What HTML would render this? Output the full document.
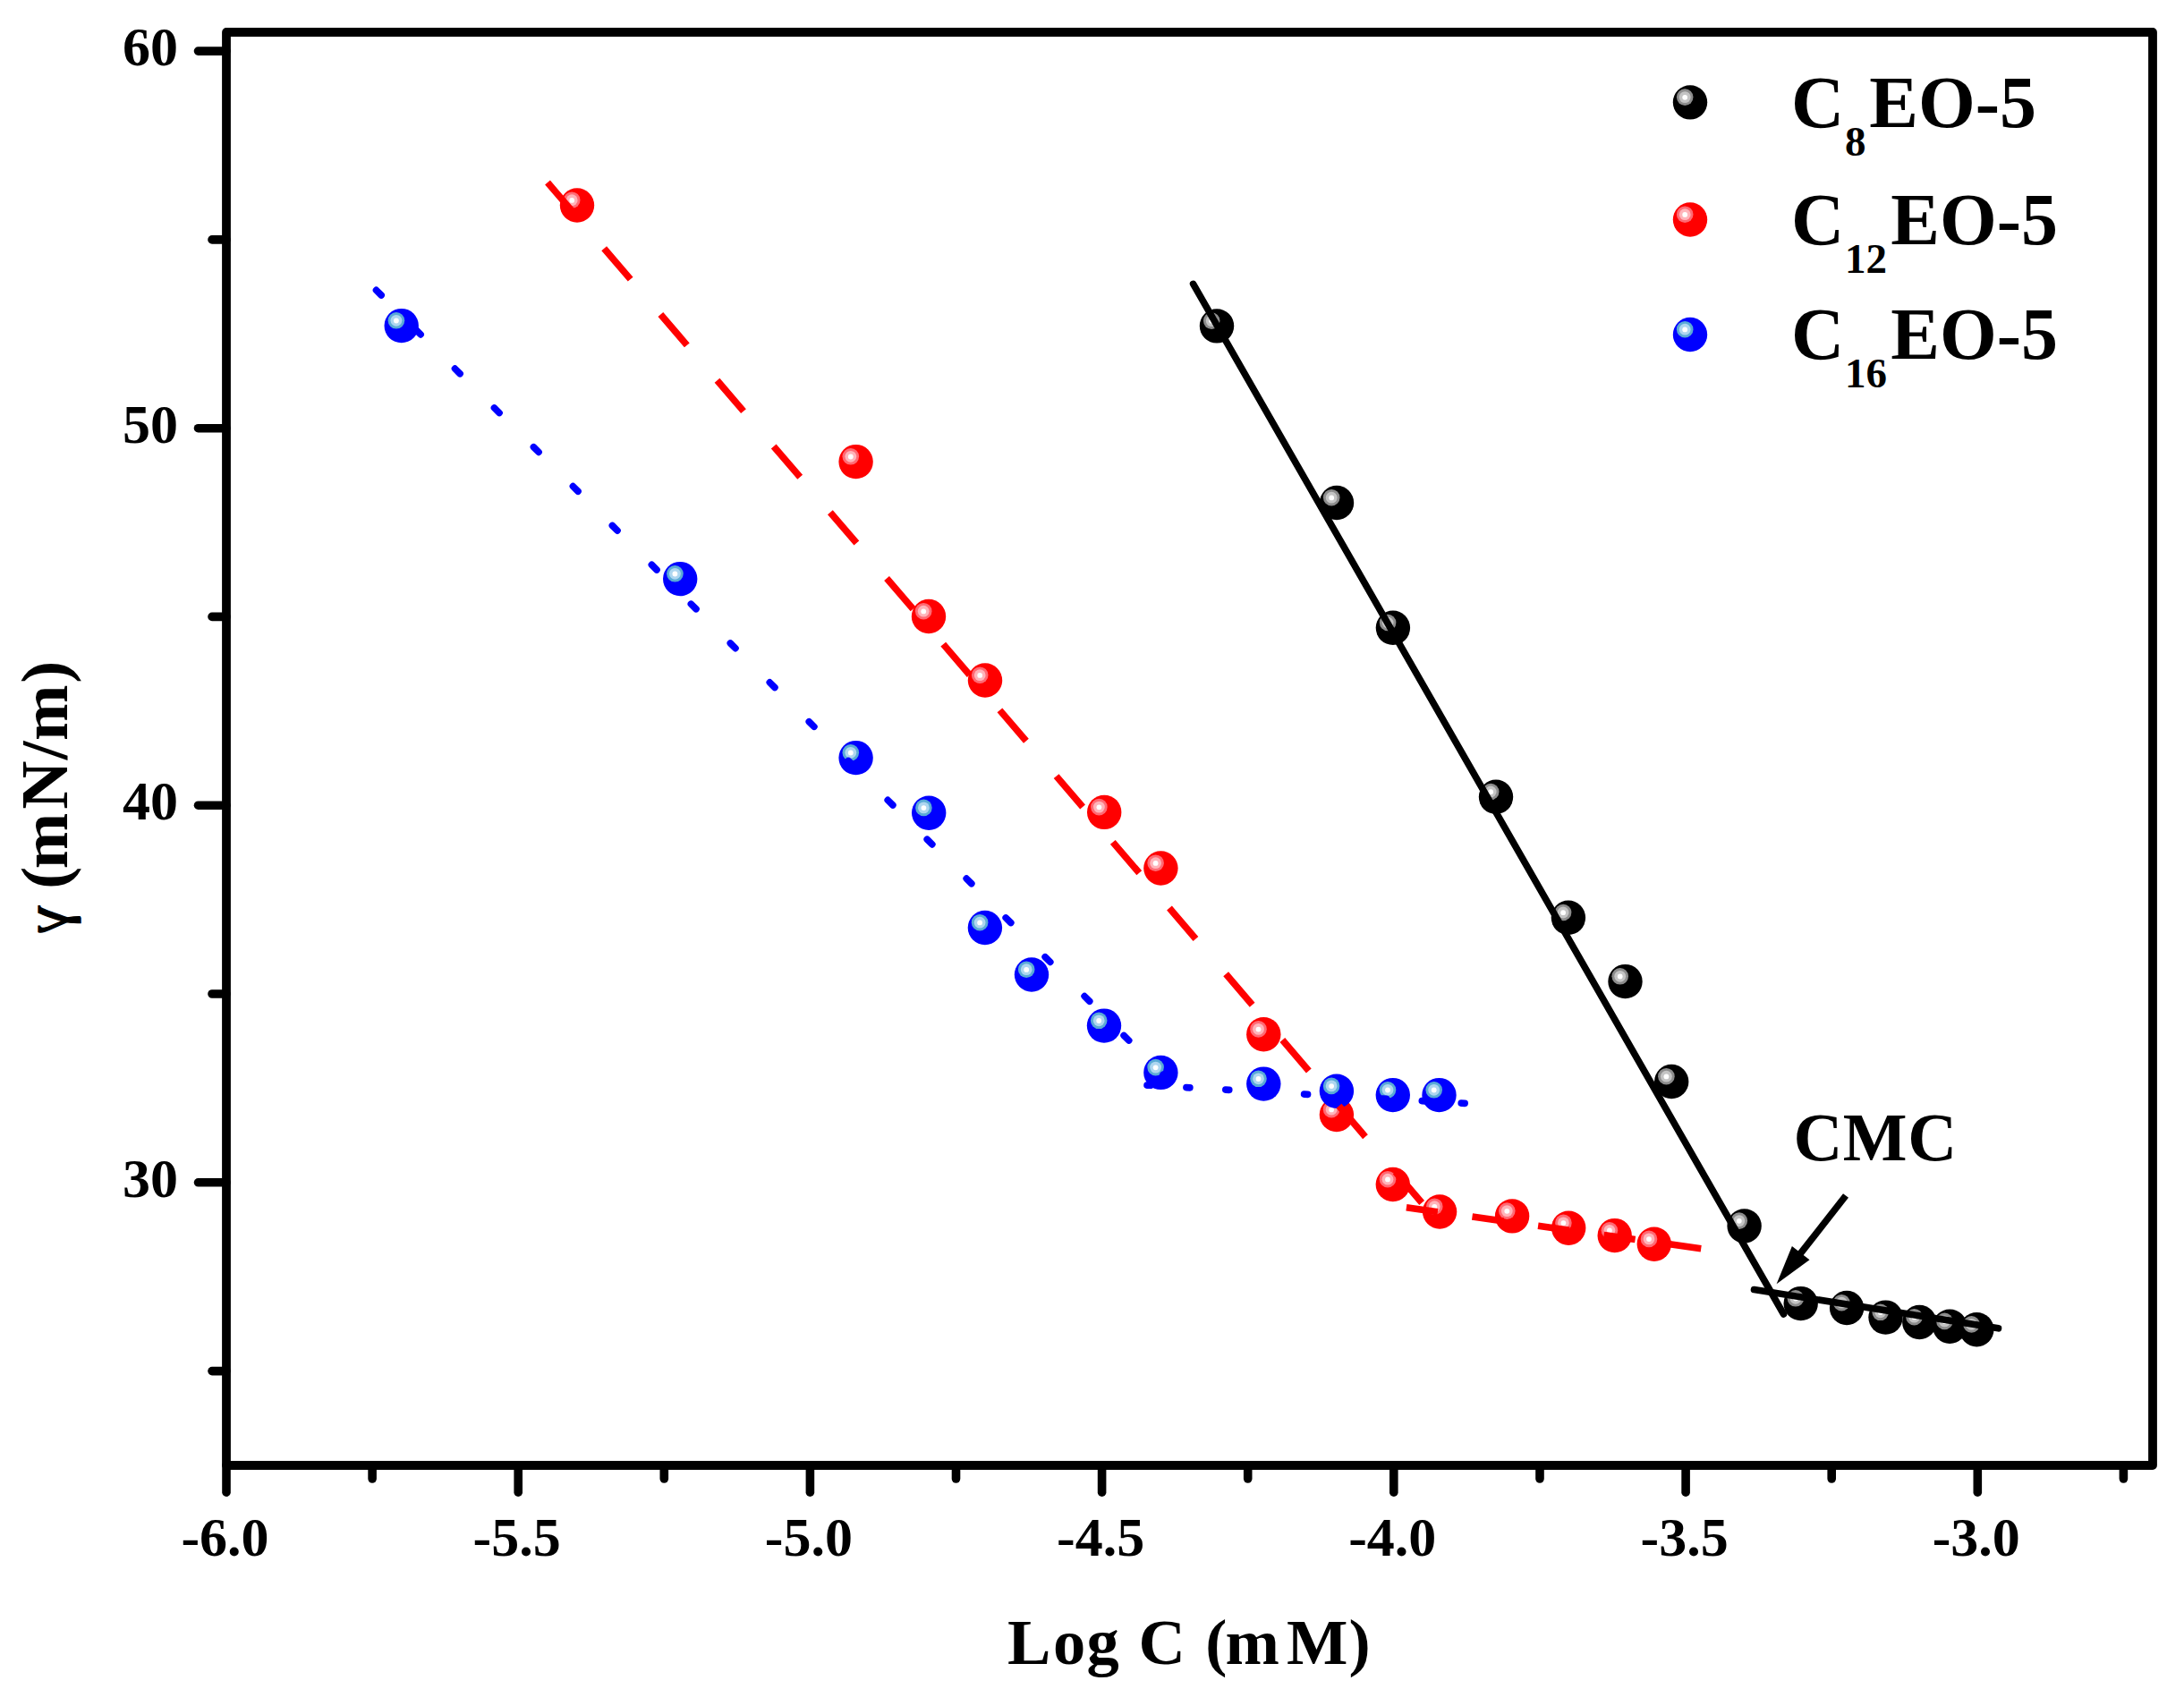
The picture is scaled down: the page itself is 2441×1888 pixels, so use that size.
<!DOCTYPE html>
<html lang="en"><head><meta charset="utf-8"><title>Surface tension vs Log C</title>
<style>html,body{margin:0;padding:0;background:#fff}svg{display:block}text{font-family:"Liberation Serif","DejaVu Serif",serif;font-weight:bold;fill:#000}</style>
</head><body>
<svg width="2441" height="1888" viewBox="0 0 2441 1888">
<rect x="0" y="0" width="2441" height="1888" fill="#fff"/>
<defs>
<g id="mk"><circle r="19.2" fill="#000"/><circle cx="-5.8" cy="-5.8" r="9.3" fill="#8c8c8c"/><circle cx="-5.8" cy="-5.8" r="6.4" fill="#c4c4c4"/><circle cx="-5.8" cy="-5.6" r="2.9" fill="#fff"/></g>
<g id="mr"><circle r="19.2" fill="#f00"/><circle cx="-5.8" cy="-5.8" r="9.3" fill="#ff6a74"/><circle cx="-5.8" cy="-5.8" r="6.4" fill="#ffb4ba"/><circle cx="-5.8" cy="-5.6" r="2.9" fill="#fff"/></g>
<g id="mb"><circle r="19.2" fill="#00f"/><circle cx="-5.8" cy="-5.8" r="9.3" fill="#5aaad6"/><circle cx="-5.8" cy="-5.8" r="6.4" fill="#aed6f0"/><circle cx="-5.8" cy="-5.6" r="2.9" fill="#fff"/></g>
</defs>
<rect x="253.0" y="36.0" width="2153.0" height="1602.0" fill="none" stroke="#000" stroke-width="9.8" stroke-linejoin="round"/>
<g stroke="#000" stroke-width="9.6" stroke-linecap="round" fill="none">
<line x1="253.0" y1="1638.0" x2="253.0" y2="1668.2"/>
<line x1="579.2" y1="1638.0" x2="579.2" y2="1668.2"/>
<line x1="905.4" y1="1638.0" x2="905.4" y2="1668.2"/>
<line x1="1231.6" y1="1638.0" x2="1231.6" y2="1668.2"/>
<line x1="1557.8" y1="1638.0" x2="1557.8" y2="1668.2"/>
<line x1="1884.1" y1="1638.0" x2="1884.1" y2="1668.2"/>
<line x1="2210.3" y1="1638.0" x2="2210.3" y2="1668.2"/>
<line x1="416.1" y1="1638.0" x2="416.1" y2="1653"/>
<line x1="742.3" y1="1638.0" x2="742.3" y2="1653"/>
<line x1="1068.5" y1="1638.0" x2="1068.5" y2="1653"/>
<line x1="1394.7" y1="1638.0" x2="1394.7" y2="1653"/>
<line x1="1721.0" y1="1638.0" x2="1721.0" y2="1653"/>
<line x1="2047.2" y1="1638.0" x2="2047.2" y2="1653"/>
<line x1="2373.4" y1="1638.0" x2="2373.4" y2="1653"/>
<line x1="253.0" y1="57.1" x2="221.5" y2="57.1"/>
<line x1="253.0" y1="478.7" x2="221.5" y2="478.7"/>
<line x1="253.0" y1="900.2" x2="221.5" y2="900.2"/>
<line x1="253.0" y1="1321.8" x2="221.5" y2="1321.8"/>
<line x1="253.0" y1="267.9" x2="237" y2="267.9"/>
<line x1="253.0" y1="689.4" x2="237" y2="689.4"/>
<line x1="253.0" y1="1111.0" x2="237" y2="1111.0"/>
<line x1="253.0" y1="1532.6" x2="237" y2="1532.6"/>
</g>
<g font-size="62">
<text x="199" y="73.3" text-anchor="end">60</text>
<text x="199" y="494.9" text-anchor="end">50</text>
<text x="199" y="916.4" text-anchor="end">40</text>
<text x="199" y="1338.0" text-anchor="end">30</text>
<text x="251.5" y="1739" text-anchor="middle">-6.0</text>
<text x="577.7" y="1739" text-anchor="middle">-5.5</text>
<text x="903.9" y="1739" text-anchor="middle">-5.0</text>
<text x="1230.1" y="1739" text-anchor="middle">-4.5</text>
<text x="1556.3" y="1739" text-anchor="middle">-4.0</text>
<text x="1882.6" y="1739" text-anchor="middle">-3.5</text>
<text x="2208.8" y="1739" text-anchor="middle">-3.0</text>
</g>
<text x="1125.9 1177.1 1214.6 1251 1272.6 1325 1347.2 1369.4 1438 1507.4" y="1860" font-size="72.5">Log C (mM)</text>
<text transform="translate(74.8,1041.5) rotate(-90) translate(28.4,0) scale(-1,1)" x="-0.4" font-size="70" style="font-weight:normal" stroke="#000" stroke-width="1.3">γ</text>
<text transform="translate(74.8,1041.5) rotate(-90)" font-size="75" x="47.8 70.25 136.85 192.3 213.45 277.75">(mN/m)</text>
<g>
<use href="#mk" x="1360.0" y="364.4"/>
<use href="#mk" x="1494.0" y="562.0"/>
<use href="#mk" x="1556.9" y="701.8"/>
<use href="#mk" x="1672.0" y="890.8"/>
<use href="#mk" x="1752.9" y="1025.8"/>
<use href="#mk" x="1816.5" y="1097.1"/>
<use href="#mk" x="1868.2" y="1209.0"/>
<use href="#mk" x="1949.6" y="1370.4"/>
<use href="#mk" x="2012.7" y="1457.1"/>
<use href="#mk" x="2064.1" y="1462.0"/>
<use href="#mk" x="2107.5" y="1472.6"/>
<use href="#mk" x="2145.3" y="1478.0"/>
<use href="#mk" x="2179.2" y="1482.7"/>
<use href="#mk" x="2209.3" y="1486.2"/>
<use href="#mr" x="645.0" y="229.5"/>
<use href="#mr" x="956.6" y="516.1"/>
<use href="#mr" x="1038.0" y="689.0"/>
<use href="#mr" x="1101.0" y="760.5"/>
<use href="#mr" x="1234.2" y="907.9"/>
<use href="#mr" x="1297.4" y="970.5"/>
<use href="#mr" x="1412.3" y="1156.2"/>
<use href="#mr" x="1493.9" y="1246.0"/>
<use href="#mr" x="1556.8" y="1324.0"/>
<use href="#mr" x="1609.1" y="1354.5"/>
<use href="#mr" x="1690.1" y="1359.4"/>
<use href="#mr" x="1753.2" y="1372.7"/>
<use href="#mr" x="1804.7" y="1381.1"/>
<use href="#mr" x="1848.8" y="1390.7"/>
<use href="#mb" x="448.7" y="364.1"/>
<use href="#mb" x="760.2" y="647.1"/>
<use href="#mb" x="956.6" y="847.1"/>
<use href="#mb" x="1038.2" y="908.7"/>
<use href="#mb" x="1100.9" y="1037.0"/>
<use href="#mb" x="1153.0" y="1089.5"/>
<use href="#mb" x="1234.0" y="1146.6"/>
<use href="#mb" x="1297.4" y="1198.9"/>
<use href="#mb" x="1412.3" y="1211.6"/>
<use href="#mb" x="1493.9" y="1219.7"/>
<use href="#mb" x="1556.8" y="1224.1"/>
<use href="#mb" x="1608.5" y="1224.1"/>
</g>
<g fill="none" stroke-width="7.6">
<line x1="1333.6" y1="317.4" x2="1993.5" y2="1469" stroke="#000" stroke-linecap="round"/>
<line x1="1960.5" y1="1441.6" x2="2233.5" y2="1484.8" stroke="#000" stroke-linecap="round"/>
<line x1="612.0" y1="204.0" x2="1590.6" y2="1346.1" stroke="#f00" stroke-dasharray="45.3 51.8"/>
<line x1="1571.9" y1="1349.8" x2="1901.5" y2="1395.7" stroke="#f00" stroke-dasharray="35.3 39"/>
<line x1="420.5" y1="324.4" x2="1308.9" y2="1210.1" stroke="#00f" stroke-linecap="round" stroke-dasharray="8 54.1"/>
<line x1="1282" y1="1213.1" x2="1641" y2="1233.6" stroke="#00f" stroke-linecap="round" stroke-dasharray="4 39.97"/>
<line x1="2063" y1="1336.5" x2="2010" y2="1404.2" stroke="#000"/>
</g>
<polygon points="1985.6,1435.3 2022.5,1408.3 2002.9,1393.0" fill="#000"/>
<text x="2004.6 2059.8 2132.2" y="1297" font-size="76">CMC</text>
<use href="#mk" x="1889.0" y="114.4"/>
<use href="#mr" x="1889.0" y="245.5"/>
<use href="#mb" x="1889.0" y="374.0"/>
<text y="141.6" font-size="82"><tspan x="2002">C</tspan><tspan x="2062" dy="32.6" font-size="47">8</tspan><tspan x="2089.3" dy="-32.6">EO-5</tspan></text>
<text y="272.6" font-size="82"><tspan x="2002">C</tspan><tspan x="2062" dy="32.6" font-size="47">12</tspan><tspan x="2113.3" dy="-32.6">EO-5</tspan></text>
<text y="400.7" font-size="82"><tspan x="2002">C</tspan><tspan x="2062" dy="32.6" font-size="47">16</tspan><tspan x="2113.3" dy="-32.6">EO-5</tspan></text>
</svg></body></html>
